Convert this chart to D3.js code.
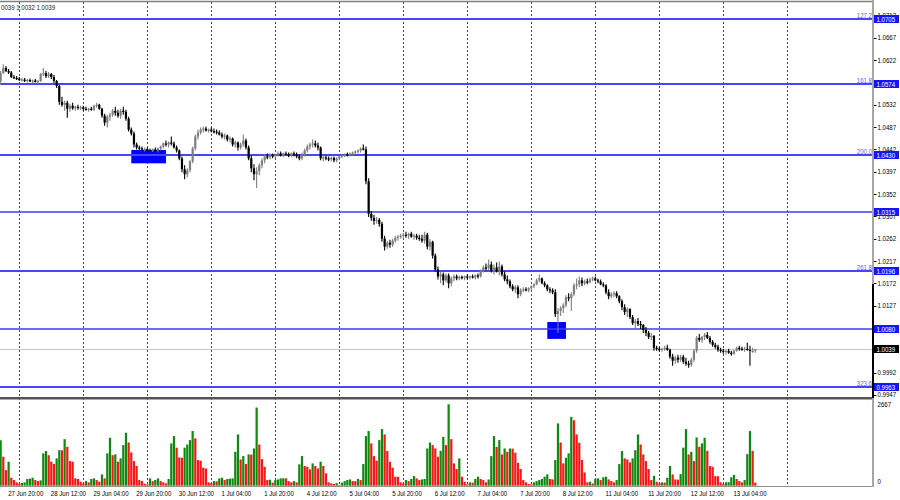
<!DOCTYPE html>
<html><head><meta charset="utf-8"><title>EURUSD H1</title>
<script src="https://cdn.jsdelivr.net/npm/d3@7/dist/d3.min.js"></script>
<style>html,body{margin:0;padding:0;background:#fff;overflow:hidden}svg{display:block}text{font-family:"Liberation Sans",Arial,sans-serif}</style>
</head><body><svg id="chart" width="900" height="500"></svg>
<script>
// ---------------- DATA ----------------
const sessions = [["27 Jun",17,23],["28 Jun",0,23],["29 Jun",0,23],["30 Jun",0,23],["1 Jul",0,23],["4 Jul",0,23],["5 Jul",0,23],["6 Jul",0,23],["7 Jul",0,23],["8 Jul",0,23],["11 Jul",0,23],["12 Jul",0,23],["13 Jul",0,23],["14 Jul",0,23]];

const barOpen = [
1.0580,1.0596,1.0606,1.0600,1.0597,1.0588,1.0586,
1.0585,1.0582,1.0583,1.0580,1.0582,1.0579,1.0581,1.0578,1.0580,1.0594,1.0596,1.0590,1.0594,1.0588,1.0580,1.0570,1.0538,1.0532,1.0536,1.0524,1.0530,1.0525,1.0528,1.0526,
1.0527,1.0524,1.0522,1.0524,1.0522,1.0530,1.0532,1.0524,1.0510,1.0496,1.0508,1.0512,1.0520,1.0516,1.0510,1.0520,1.0518,1.0504,1.0482,1.0474,1.0452,1.0446,1.0444,1.0442,
1.0443,1.0441,1.0440,1.0442,1.0440,1.0444,1.0448,1.0454,1.0452,1.0456,1.0454,1.0446,1.0440,1.0424,1.0402,1.0392,1.0400,1.0418,1.0444,1.0468,1.0476,1.0482,1.0484,1.0480,
1.0482,1.0479,1.0478,1.0476,1.0472,1.0468,1.0470,1.0462,1.0464,1.0452,1.0456,1.0446,1.0452,1.0460,1.0446,1.0424,1.0404,1.0392,1.0398,1.0410,1.0420,1.0428,1.0426,1.0430,
1.0428,1.0432,1.0434,1.0430,1.0434,1.0432,1.0430,1.0434,1.0432,1.0428,1.0424,1.0432,1.0440,1.0448,1.0452,1.0454,1.0450,1.0446,1.0424,1.0426,1.0424,1.0422,1.0425,1.0420,
1.0424,1.0428,1.0430,1.0432,1.0430,1.0434,1.0436,1.0438,1.0440,1.0444,1.0442,1.0378,1.0312,1.0304,1.0298,1.0300,1.0292,1.0262,1.0246,1.0254,1.0250,1.0258,1.0264,1.0266,
1.0268,1.0270,1.0268,1.0272,1.0266,1.0268,1.0264,1.0262,1.0258,1.0270,1.0246,1.0256,1.0228,1.0200,1.0186,1.0190,1.0178,1.0188,1.0172,1.0182,1.0186,1.0182,1.0185,1.0183,
1.0186,1.0184,1.0186,1.0184,1.0188,1.0186,1.0198,1.0204,1.0202,1.0210,1.0198,1.0204,1.0196,1.0206,1.0190,1.0180,1.0176,1.0166,1.0160,1.0164,1.0150,1.0158,1.0160,1.0158,
1.0162,1.0166,1.0170,1.0178,1.0182,1.0172,1.0168,1.0160,1.0158,1.0154,1.0110,1.0116,1.0122,1.0128,1.0144,1.0142,1.0150,1.0168,1.0170,1.0178,1.0172,1.0176,1.0174,1.0180,
1.0182,1.0178,1.0176,1.0170,1.0168,1.0154,1.0146,1.0150,1.0152,1.0146,1.0136,1.0124,1.0114,1.0120,1.0104,1.0092,1.0096,1.0090,1.0088,1.0078,1.0072,1.0064,1.0066,1.0042,
1.0040,1.0038,1.0040,1.0042,1.0038,1.0024,1.0016,1.0022,1.0018,1.0024,1.0014,1.0010,1.0008,1.0018,1.0036,1.0062,1.0058,1.0064,1.0068,1.0062,1.0054,1.0048,1.0044,1.0038,
1.0036,1.0034,1.0036,1.0032,1.0030,1.0036,1.0042,1.0040,1.0038,1.0040,1.0038,1.0036,1.0036];

const barHigh = [
1.0600,1.0614,1.0610,1.0604,1.0600,1.0592,1.0590,
1.0588,1.0586,1.0586,1.0584,1.0585,1.0583,1.0584,1.0582,1.0596,1.0606,1.0600,1.0598,1.0596,1.0592,1.0582,1.0572,1.0548,1.0540,1.0540,1.0534,1.0536,1.0530,1.0532,1.0530,
1.0530,1.0528,1.0526,1.0528,1.0532,1.0536,1.0534,1.0526,1.0514,1.0512,1.0516,1.0524,1.0528,1.0522,1.0524,1.0528,1.0522,1.0508,1.0486,1.0478,1.0456,1.0450,1.0448,1.0446,
1.0446,1.0444,1.0444,1.0446,1.0446,1.0450,1.0456,1.0460,1.0458,1.0468,1.0458,1.0450,1.0442,1.0428,1.0410,1.0404,1.0420,1.0448,1.0472,1.0482,1.0486,1.0488,1.0488,1.0484,
1.0486,1.0484,1.0482,1.0480,1.0476,1.0474,1.0472,1.0468,1.0466,1.0460,1.0458,1.0456,1.0472,1.0464,1.0450,1.0430,1.0412,1.0406,1.0414,1.0424,1.0432,1.0434,1.0434,1.0434,
1.0434,1.0438,1.0438,1.0436,1.0438,1.0436,1.0436,1.0438,1.0436,1.0432,1.0436,1.0444,1.0452,1.0456,1.0462,1.0460,1.0456,1.0448,1.0430,1.0430,1.0428,1.0428,1.0428,1.0426,
1.0430,1.0432,1.0434,1.0436,1.0436,1.0438,1.0440,1.0442,1.0446,1.0452,1.0448,1.0384,1.0318,1.0310,1.0306,1.0304,1.0296,1.0268,1.0258,1.0260,1.0262,1.0268,1.0270,1.0272,
1.0274,1.0276,1.0274,1.0276,1.0272,1.0272,1.0270,1.0270,1.0276,1.0274,1.0262,1.0258,1.0232,1.0206,1.0196,1.0194,1.0192,1.0192,1.0186,1.0190,1.0190,1.0188,1.0188,1.0188,
1.0190,1.0188,1.0190,1.0190,1.0192,1.0200,1.0208,1.0212,1.0220,1.0216,1.0210,1.0214,1.0216,1.0210,1.0196,1.0188,1.0180,1.0170,1.0168,1.0168,1.0162,1.0164,1.0164,1.0164,
1.0168,1.0172,1.0182,1.0190,1.0184,1.0176,1.0170,1.0164,1.0162,1.0160,1.0122,1.0126,1.0132,1.0148,1.0152,1.0154,1.0172,1.0182,1.0186,1.0184,1.0180,1.0182,1.0184,1.0186,
1.0186,1.0182,1.0180,1.0174,1.0170,1.0160,1.0154,1.0156,1.0156,1.0148,1.0140,1.0130,1.0124,1.0122,1.0108,1.0100,1.0102,1.0096,1.0090,1.0084,1.0076,1.0072,1.0068,1.0046,
1.0044,1.0042,1.0046,1.0048,1.0040,1.0030,1.0026,1.0028,1.0028,1.0028,1.0022,1.0016,1.0022,1.0040,1.0066,1.0070,1.0066,1.0072,1.0074,1.0066,1.0058,1.0052,1.0048,1.0042,
1.0040,1.0038,1.0040,1.0036,1.0038,1.0044,1.0046,1.0044,1.0044,1.0052,1.0046,1.0042,1.0039];

const barLow = [
1.0572,1.0594,1.0598,1.0594,1.0586,1.0584,1.0582,
1.0580,1.0579,1.0578,1.0577,1.0578,1.0576,1.0577,1.0574,1.0578,1.0590,1.0586,1.0586,1.0584,1.0576,1.0566,1.0532,1.0528,1.0520,1.0506,1.0518,1.0522,1.0520,1.0522,1.0522,
1.0520,1.0520,1.0518,1.0520,1.0520,1.0526,1.0522,1.0506,1.0490,1.0486,1.0500,1.0508,1.0510,1.0506,1.0504,1.0512,1.0500,1.0478,1.0470,1.0446,1.0442,1.0440,1.0440,1.0438,
1.0438,1.0436,1.0437,1.0438,1.0436,1.0440,1.0444,1.0448,1.0446,1.0450,1.0444,1.0436,1.0420,1.0396,1.0382,1.0386,1.0396,1.0414,1.0440,1.0462,1.0472,1.0476,1.0478,1.0476,
1.0476,1.0474,1.0472,1.0470,1.0464,1.0462,1.0458,1.0456,1.0448,1.0446,1.0440,1.0442,1.0448,1.0442,1.0420,1.0396,1.0380,1.0364,1.0390,1.0404,1.0414,1.0422,1.0422,1.0424,
1.0424,1.0428,1.0428,1.0426,1.0430,1.0426,1.0426,1.0428,1.0424,1.0420,1.0420,1.0428,1.0436,1.0442,1.0446,1.0446,1.0440,1.0420,1.0418,1.0420,1.0418,1.0418,1.0416,1.0416,
1.0420,1.0424,1.0426,1.0428,1.0428,1.0430,1.0432,1.0434,1.0436,1.0440,1.0372,1.0306,1.0298,1.0290,1.0292,1.0286,1.0256,1.0238,1.0242,1.0244,1.0246,1.0254,1.0258,1.0262,
1.0262,1.0264,1.0262,1.0264,1.0260,1.0260,1.0258,1.0254,1.0252,1.0240,1.0238,1.0222,1.0196,1.0180,1.0172,1.0168,1.0174,1.0162,1.0166,1.0176,1.0178,1.0178,1.0180,1.0178,
1.0180,1.0180,1.0182,1.0180,1.0182,1.0184,1.0194,1.0198,1.0198,1.0194,1.0190,1.0194,1.0188,1.0186,1.0176,1.0170,1.0162,1.0156,1.0152,1.0142,1.0146,1.0154,1.0156,1.0154,
1.0158,1.0162,1.0168,1.0174,1.0170,1.0164,1.0156,1.0152,1.0150,1.0104,1.0072,1.0106,1.0112,1.0124,1.0136,1.0116,1.0146,1.0160,1.0164,1.0166,1.0168,1.0170,1.0172,1.0176,
1.0176,1.0172,1.0168,1.0164,1.0150,1.0140,1.0142,1.0144,1.0142,1.0132,1.0118,1.0108,1.0104,1.0100,1.0088,1.0078,1.0086,1.0080,1.0072,1.0066,1.0060,1.0058,1.0036,1.0036,
1.0034,1.0034,1.0036,1.0036,1.0020,1.0006,1.0010,1.0012,1.0014,1.0010,1.0006,1.0002,1.0004,1.0014,1.0032,1.0054,1.0052,1.0058,1.0060,1.0050,1.0044,1.0040,1.0034,1.0032,
1.0030,1.0028,1.0030,1.0026,1.0028,1.0034,1.0036,1.0036,1.0034,1.0036,1.0006,1.0032,1.0032];

const barClose = [
1.0596,1.0606,1.0600,1.0597,1.0588,1.0586,1.0585,
1.0582,1.0583,1.0580,1.0582,1.0579,1.0581,1.0578,1.0580,1.0594,1.0596,1.0590,1.0594,1.0588,1.0580,1.0570,1.0538,1.0532,1.0536,1.0524,1.0530,1.0525,1.0528,1.0526,1.0527,
1.0524,1.0522,1.0524,1.0522,1.0530,1.0532,1.0524,1.0510,1.0496,1.0508,1.0512,1.0520,1.0516,1.0510,1.0520,1.0518,1.0504,1.0482,1.0474,1.0452,1.0446,1.0444,1.0442,1.0443,
1.0441,1.0440,1.0442,1.0440,1.0444,1.0448,1.0454,1.0452,1.0456,1.0454,1.0446,1.0440,1.0424,1.0402,1.0392,1.0400,1.0418,1.0444,1.0468,1.0476,1.0482,1.0484,1.0480,1.0482,
1.0479,1.0478,1.0476,1.0472,1.0468,1.0470,1.0462,1.0464,1.0452,1.0456,1.0446,1.0452,1.0460,1.0446,1.0424,1.0404,1.0392,1.0398,1.0410,1.0420,1.0428,1.0426,1.0430,1.0428,
1.0432,1.0434,1.0430,1.0434,1.0432,1.0430,1.0434,1.0432,1.0428,1.0424,1.0432,1.0440,1.0448,1.0452,1.0454,1.0450,1.0446,1.0424,1.0426,1.0424,1.0422,1.0425,1.0420,1.0424,
1.0428,1.0430,1.0432,1.0430,1.0434,1.0436,1.0438,1.0440,1.0444,1.0442,1.0378,1.0312,1.0304,1.0298,1.0300,1.0292,1.0262,1.0246,1.0254,1.0250,1.0258,1.0264,1.0266,1.0268,
1.0270,1.0268,1.0272,1.0266,1.0268,1.0264,1.0262,1.0258,1.0270,1.0246,1.0256,1.0228,1.0200,1.0186,1.0190,1.0178,1.0188,1.0172,1.0182,1.0186,1.0182,1.0185,1.0183,1.0186,
1.0184,1.0186,1.0184,1.0188,1.0186,1.0198,1.0204,1.0202,1.0210,1.0198,1.0204,1.0196,1.0206,1.0190,1.0180,1.0176,1.0166,1.0160,1.0164,1.0150,1.0158,1.0160,1.0158,1.0162,
1.0166,1.0170,1.0178,1.0182,1.0172,1.0168,1.0160,1.0158,1.0154,1.0110,1.0116,1.0122,1.0128,1.0144,1.0142,1.0150,1.0168,1.0170,1.0178,1.0172,1.0176,1.0174,1.0180,1.0182,
1.0178,1.0176,1.0170,1.0168,1.0154,1.0146,1.0150,1.0152,1.0146,1.0136,1.0124,1.0114,1.0120,1.0104,1.0092,1.0096,1.0090,1.0088,1.0078,1.0072,1.0064,1.0066,1.0042,1.0040,
1.0038,1.0040,1.0042,1.0038,1.0024,1.0016,1.0022,1.0018,1.0024,1.0014,1.0010,1.0008,1.0018,1.0036,1.0062,1.0058,1.0064,1.0068,1.0062,1.0054,1.0048,1.0044,1.0038,1.0036,
1.0034,1.0036,1.0032,1.0030,1.0036,1.0042,1.0040,1.0038,1.0040,1.0038,1.0036,1.0036,1.0039];

const volume = [
1490,950,510,785,260,185,110,
65,90,110,220,230,260,185,150,175,1060,1135,1000,785,710,895,1165,1160,1525,1275,805,785,240,220,130,
75,150,110,220,240,185,130,370,240,1060,1570,1000,1025,785,895,1330,1735,1415,1090,805,645,185,150,65,
45,240,150,185,240,150,110,75,220,1385,1625,1245,925,915,1245,1350,1495,1790,1550,840,820,590,565,110,
75,150,145,240,260,185,220,230,240,1110,1680,860,970,710,1025,1020,1220,2560,1350,870,620,185,195,100,
185,205,240,245,240,150,110,150,110,700,970,645,620,535,730,645,565,785,645,405,110,75,55,85,
22,100,150,185,205,150,150,220,185,710,1625,1790,1385,970,820,1495,1855,1680,1135,785,590,295,290,110,
75,185,150,220,315,240,185,205,220,1220,1415,1330,1220,950,1145,1600,1330,2667,1525,730,545,895,295,130,
45,110,100,220,295,220,185,110,205,970,1625,1275,1495,1025,1220,1110,1220,1215,1080,750,545,185,110,55,
45,110,150,185,220,295,370,220,205,840,2040,1415,730,915,1060,2255,2145,1680,1405,840,435,110,130,75,
220,240,185,275,295,205,150,110,185,710,1135,895,860,765,895,1165,1680,1350,1025,805,545,185,325,130,
75,110,105,260,645,370,205,200,380,1245,1855,1025,1110,805,1580,1275,1385,1570,1145,645,620,315,310,110,
55,110,115,275,350,220,150,110,185,1035,1790,1145,100];

const priceTicks = ["1.0712","1.0667","1.0622","1.0577","1.0532","1.0487","1.0442","1.0397","1.0352","1.0307","1.0262","1.0217","1.0172","1.0127","1.0082","1.0037","0.9992","0.9947"];
const volTicks = [2667, 0];
const timeLabels = ["27 Jun 20:00","28 Jun 12:00","29 Jun 04:00","29 Jun 20:00","30 Jun 12:00","1 Jul 04:00","1 Jul 20:00","4 Jul 12:00","5 Jul 04:00","5 Jul 20:00","6 Jul 12:00","7 Jul 04:00","7 Jul 20:00","8 Jul 12:00","11 Jul 04:00","11 Jul 20:00","12 Jul 12:00","13 Jul 04:00"];
const gridDays = ["28 Jun","29 Jun","30 Jun","1 Jul","4 Jul","5 Jul","6 Jul","7 Jul","8 Jul","11 Jul","12 Jul","13 Jul","14 Jul"];
const levelPrices = [1.0705,1.0574,1.0430,1.0315,1.0196,1.0080,0.9963];
const levelNames  = ["127.2","161.8","200.0","","261.8","","323.6"];
const zoneFrom   = ["29 Jun 18:00","8 Jul 06:00"];
const zoneTo     = ["30 Jun 07:00","8 Jul 13:00"];
const zoneTop    = [1.0441,1.0094];
const zoneBottom = [1.0414,1.0060];
const lastPrice = 1.0039;

// ---------------- DRAW ----------------
const svg = d3.select("#chart");
const pad2 = n => String(n).padStart(2,"0");
const timeline = [];
sessions.forEach(([d,a,b]) => { for (let h=a; h<=b; h++) timeline.push(d + " " + pad2(h) + ":00"); });
const idx = t => timeline.indexOf(t);

const AX = 873;
const x  = d3.scaleLinear().domain([0,300]).range([0.63, 800.63]);
const y  = d3.scaleLinear().domain([0.9963,1.0705]).range([387,19]);
const yv = d3.scaleLinear().domain([0,2667]).range([485.7,404.3]);
const crisp = v => Math.round(v) + 0.5;

svg.append("rect").attr("width",900).attr("height",500).attr("fill","#fff");
const defs = svg.append("defs");
defs.append("clipPath").attr("id","cp").append("rect").attr("x",0).attr("y",2).attr("width",AX).attr("height",395);
defs.append("clipPath").attr("id","cv").append("rect").attr("x",0).attr("y",399).attr("width",AX).attr("height",87);

function label(g, str, px, py, opt) {
  opt = opt || {};
  return g.append("text")
    .attr("transform", `translate(${px},${py}) scale(0.87,1)`)
    .attr("text-anchor", opt.anchor || "start")
    .attr("font-size", opt.size || 7)
    .attr("fill", opt.fill || "#000")
    .text(str);
}

// vertical day grid
svg.append("g").selectAll("line").data(gridDays).join("line")
  .attr("x1", d => crisp(x(idx(d + " 00:00")))).attr("x2", d => crisp(x(idx(d + " 00:00"))))
  .attr("y1", 2).attr("y2", 486)
  .attr("stroke", "#4a4a4a").attr("stroke-width", 1).attr("stroke-dasharray", "2,2");

// current price line
svg.append("line").attr("x1",0).attr("x2",AX).attr("y1",crisp(y(lastPrice))).attr("y2",crisp(y(lastPrice)))
  .attr("stroke","#c8c8c8").attr("stroke-width",1);

// zones
const pg = svg.append("g").attr("clip-path","url(#cp)");
pg.selectAll("rect.zone").data(zoneFrom).join("rect").attr("class","zone")
  .attr("x", (d,i) => x(idx(d)))
  .attr("width", (d,i) => x(idx(zoneTo[i])) - x(idx(d)))
  .attr("y", (d,i) => y(zoneTop[i]))
  .attr("height", (d,i) => y(zoneBottom[i]) - y(zoneTop[i]))
  .attr("fill", "#0000ff");

// level lines
pg.selectAll("line.lvl").data(levelPrices).join("line").attr("class","lvl")
  .attr("x1",0).attr("x2",AX)
  .attr("y1", d => Math.round(y(d))).attr("y2", d => Math.round(y(d)))
  .attr("stroke", (d,i) => levelNames[i] ? "#4646ff" : "#3c3cf5")
  .attr("stroke-width", (d,i) => levelNames[i] ? 2.2 : 1.3);

// candles
const bars = barClose.map((c,i) => ({i, o:barOpen[i], h:barHigh[i], l:barLow[i], c, v:volume[i]}));
const BULL = "#7e7e7e", BEAR = "#000";
pg.selectAll("line.wick").data(bars).join("line").attr("class","wick")
  .attr("x1", d => x(d.i)).attr("x2", d => x(d.i))
  .attr("y1", d => y(d.h)).attr("y2", d => y(d.l))
  .attr("stroke", d => d.c >= d.o ? BULL : BEAR).attr("stroke-width", 1.1);
pg.selectAll("rect.body").data(bars).join("rect").attr("class","body")
  .attr("x", d => x(d.i) - 1.1).attr("width", 2.2)
  .attr("y", d => y(Math.max(d.o, d.c)))
  .attr("height", d => Math.max(1.2, Math.abs(y(d.o) - y(d.c))))
  .attr("fill", d => d.c >= d.o ? BULL : BEAR);

// volumes
const vg = svg.append("g").attr("clip-path","url(#cv)");
vg.selectAll("rect").data(bars).join("rect")
  .attr("x", d => x(d.i) - 1.1).attr("width", 2.2)
  .attr("y", d => yv(d.v)).attr("height", d => yv(0) - yv(d.v))
  .attr("fill", d => (d.i === 0 || d.v > volume[d.i-1]) ? "#0c8a0c" : "#ff1414");

// frame
svg.append("line").attr("x1",0).attr("x2",AX).attr("y1",1.5).attr("y2",1.5).attr("stroke","#808080").attr("stroke-width",1.5);
svg.append("rect").attr("x",0).attr("y",397).attr("width",AX).attr("height",2.5).attr("fill","#555");
svg.append("line").attr("x1",0).attr("x2",AX).attr("y1",486.5).attr("y2",486.5).attr("stroke","#909090").attr("stroke-width",1);
svg.append("line").attr("x1",AX).attr("x2",AX).attr("y1",0).attr("y2",487).attr("stroke","#a6a6a6").attr("stroke-width",2);
svg.append("line").attr("x1",AX).attr("x2",AX).attr("y1",284).attr("y2",398).attr("stroke","#000").attr("stroke-width",2);

// price axis ticks + labels
const ag = svg.append("g");
priceTicks.forEach(t => {
  const yy = y(+t);
  ag.append("line").attr("x1",AX+1).attr("x2",AX+3.5).attr("y1",crisp(yy)).attr("y2",crisp(yy)).attr("stroke","#000");
  label(ag, t, AX+4.5, yy+2.5);
});
// level boxes
levelPrices.forEach(p => {
  const yy = Math.round(y(p));
  ag.append("rect").attr("x",AX+1).attr("y",yy-4).attr("width",25).attr("height",8).attr("fill","#1414ff");
  label(ag, p.toFixed(4), AX+3.5, yy+2.5, {fill:"#fff"});
});
{
  const yy = Math.round(y(lastPrice));
  ag.append("rect").attr("x",AX+1).attr("y",yy-4).attr("width",25).attr("height",8).attr("fill","#000");
  label(ag, lastPrice.toFixed(4), AX+3.5, yy+2.5, {fill:"#fff"});
}
// level names
levelPrices.forEach((p,i) => {
  if (!levelNames[i]) return;
  label(ag, levelNames[i], AX-1, Math.round(y(p)) - 1.5, {anchor:"end", fill:"#5c5cff", size:7});
});
// volume axis labels
label(ag, String(volTicks[0]), AX+4.5, yv(volTicks[0]) + 2.5);
label(ag, String(volTicks[1]), AX+4.5, yv(volTicks[1]) - 1.5);

// time labels
timeLabels.forEach(t => {
  label(ag, t, x(idx(t)) - 0.5, 495.5);
});

// header text (start of the line is cut off by the window edge in the reference)
const lb = bars[bars.length-1];
label(svg, `${lb.h.toFixed(4).slice(2)} ${lb.l.toFixed(4)} ${lb.c.toFixed(4)}`, 1, 9.5, {fill:"#1a1a1a"});
</script></body></html>
